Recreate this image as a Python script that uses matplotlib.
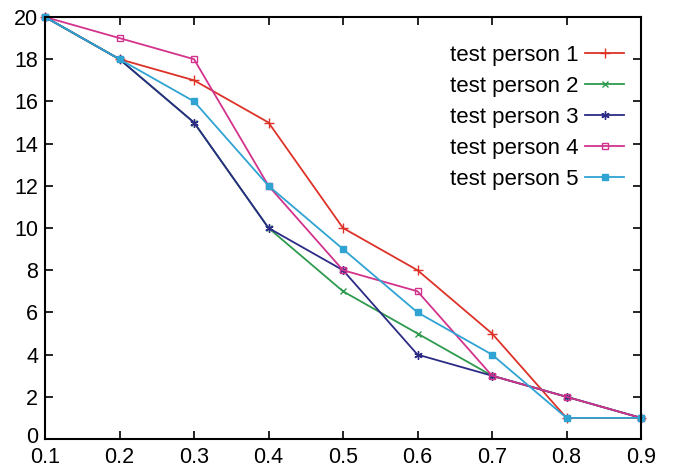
import matplotlib
matplotlib.use("Agg")
import matplotlib.pyplot as plt
import matplotlib.transforms as mtransforms

x = [0.1, 0.2, 0.3, 0.4, 0.5, 0.6, 0.7, 0.8, 0.9]
person1 = [20, 18, 17, 15, 10, 8, 5, 1, 1]
person2 = [20, 18, 15, 10, 7, 5, 3, 2, 1]
person3 = [20, 18, 15, 10, 8, 4, 3, 2, 1]
person4 = [20, 19, 18, 12, 8, 7, 3, 2, 1]
person5 = [20, 18, 16, 12, 9, 6, 4, 1, 1]
labels = ["test person 1", "test person 2", "test person 3", "test person 4", "test person 5"]

plt.rcParams['font.family'] = ['Liberation Sans', 'DejaVu Sans']

fig = plt.figure(figsize=(6.79, 4.68), dpi=100)
ax = fig.add_axes([45/679, 1-439/468, (641-45)/679, (439-17)/468])

styles = [
    dict(color="#dd3228", marker="+", ms=7, mfc="#dd3228"),
    dict(color="#2e9a4e", marker="x", ms=5, mfc="#2e9a4e"),
    dict(color="#2b2b85", marker=(6, 2, 0), ms=6, mfc="#2b2b85"),
    dict(color="#d2338c", marker="s", ms=5, mfc="none"),
    dict(color="#2fa3d2", marker="s", ms=5, mfc="#2fa3d2"),
]
for ys, lab, st in zip([person1, person2, person3, person4, person5], labels, styles):
    ax.plot(x, ys, lw=1.3, label=lab, clip_on=False, **st)

ax.set_xlim(0.1, 0.9)
ax.set_ylim(0, 20)
ax.set_xticks(x)
ax.set_xticklabels([f"{v:.1f}" for v in x])
ax.set_yticks(range(0, 21, 2))
ax.tick_params(direction="in", top=True, right=True, length=6, width=1.2, labelsize=15.5)
ax.tick_params(axis="x", pad=6)
ax.tick_params(axis="y", pad=5)
for s in ax.spines.values():
    s.set_linewidth(1.5)

# nudge the "0" label up slightly, as in the reference
zero_lab = ax.yaxis.get_major_ticks()[0].label1
zero_lab.set_transform(zero_lab.get_transform() + mtransforms.ScaledTranslation(0, 3/72, fig.dpi_scale_trans))

leg = ax.legend(loc="upper right", bbox_to_anchor=(624/679, 1-45/468), bbox_transform=fig.transFigure,
                frameon=False, markerfirst=False, borderpad=0, borderaxespad=0,
                fontsize=16, handlelength=1.75, labelspacing=0.45, handletextpad=0.3)

fig.savefig("out.png", dpi=100)
